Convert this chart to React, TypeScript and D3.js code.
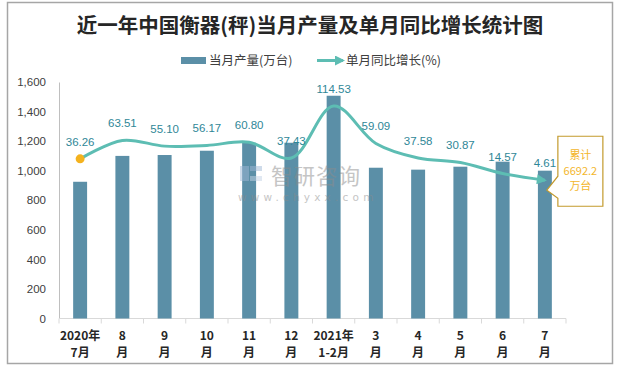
import { useEffect, useRef } from 'react'
import * as d3 from 'd3'

const W = 618, H = 367
const M = { top: 82, right: 52, bottom: 48.5, left: 59 }

const CATEGORIES = ['2020年\n7月', '8\n月', '9\n月', '10\n月', '11\n月', '12\n月', '2021年\n1-2月', '3\n月', '4\n月', '5\n月', '6\n月', '7\n月']
const OUTPUT = [925, 1100, 1106, 1135, 1189, 1189, 1507, 1020, 1007, 1027, 1061, 1000]
const GROWTH = [36.26, 63.51, 55.10, 56.17, 60.80, 37.43, 114.53, 59.09, 37.58, 30.87, 14.57, 4.61]
const Y_TICKS = [0, 200, 400, 600, 800, 1000, 1200, 1400, 1600]
const Y2_DOMAIN = [-200, 150]
const TOTAL = ['累计', '6692.2', '万台']

const TITLE = '近一年中国衡器(秤)当月产量及单月同比增长统计图'
const LEGEND_BAR = '当月产量(万台)'
const LEGEND_LINE = '单月同比增长(%)'

const BAR_C = '#5b8fa7'
const LINE_C = '#5dbdb3'
const LABEL_C = '#2f8797'
const DOT_C = '#f4b21e'
const FONT = '"Noto Sans CJK SC", "Liberation Sans", sans-serif'

export default function App() {
  const svgRef = useRef<SVGSVGElement>(null)

  useEffect(() => {
    const svg = d3.select(svgRef.current!)
    svg.selectAll('*').remove()

    const x0 = M.left, x1 = W - M.right
    const y0 = H - M.bottom, y1 = M.top

    // ── frame ─────────────────────────────────────────────────────────────
    svg.append('rect').attr('x', 7.5).attr('y', 2.5).attr('width', 605).attr('height', 361)
      .attr('fill', '#fff').attr('stroke', '#a6a6a6').attr('stroke-width', 1.5)

    // ── defs ──────────────────────────────────────────────────────────────
    const defs = svg.append('defs')
    defs.append('marker').attr('id', 'arr')
      .attr('viewBox', '0 0 10 10').attr('refX', 8).attr('refY', 5)
      .attr('markerWidth', 11).attr('markerHeight', 10)
      .attr('markerUnits', 'userSpaceOnUse').attr('orient', 'auto')
      .append('path').attr('d', 'M0,0 L10,5 L0,10 Z').attr('fill', LINE_C)

    // ── title + legend ────────────────────────────────────────────────────
    svg.append('text').attr('x', 310).attr('y', 33).attr('text-anchor', 'middle')
      .attr('font-family', FONT).attr('font-weight', 700).attr('font-size', 20.5)
      .attr('fill', '#262626').text(TITLE)

    svg.append('rect').attr('x', 181).attr('y', 57).attr('width', 25).attr('height', 7).attr('fill', BAR_C)
    svg.append('text').attr('x', 209).attr('y', 64.5).attr('font-family', FONT).attr('font-size', 12.5)
      .attr('fill', '#404040').text(LEGEND_BAR)
    svg.append('line').attr('x1', 317).attr('x2', 343).attr('y1', 60.5).attr('y2', 60.5)
      .attr('stroke', LINE_C).attr('stroke-width', 3).attr('marker-end', 'url(#arr)')
    svg.append('text').attr('x', 346).attr('y', 64.5).attr('font-family', FONT).attr('font-size', 12.5)
      .attr('fill', '#404040').text(LEGEND_LINE)

    // ── scales ────────────────────────────────────────────────────────────
    const x = d3.scaleBand<string>().domain(CATEGORIES).range([x0, x1])
      .paddingInner(0.67).paddingOuter(0.335)
    const cx = (i: number) => x(CATEGORIES[i])! + x.bandwidth() / 2
    const y = d3.scaleLinear().domain([0, 1600]).range([y0, y1])
    const y2 = d3.scaleLinear().domain(Y2_DOMAIN).range([y0, y1])

    // ── axes ──────────────────────────────────────────────────────────────
    const yAx = svg.append('g').attr('transform', `translate(${x0},0)`)
      .call(d3.axisLeft(y).tickValues(Y_TICKS).tickFormat(d3.format(',')).tickSize(0).tickPadding(13))
    yAx.select('.domain').attr('stroke', '#bfbfbf')
    yAx.selectAll('.tick text').attr('font-family', '"Liberation Sans", Arial, sans-serif')
      .attr('font-size', 11.5).attr('fill', '#404040')

    svg.append('line').attr('x1', x0).attr('x2', x1).attr('y1', y0).attr('y2', y0)
      .attr('stroke', '#d9d9d9').attr('stroke-width', 1)
    svg.selectAll('line.xt').data(d3.range(CATEGORIES.length + 1)).join('line').attr('class', 'xt')
      .attr('x1', i => x0 + i * x.step()).attr('x2', i => x0 + i * x.step())
      .attr('y1', y0).attr('y2', y0 + 5).attr('stroke', '#d9d9d9')

    const xl = svg.selectAll('text.xl').data(CATEGORIES).join('text').attr('class', 'xl')
      .attr('text-anchor', 'middle').attr('font-family', FONT).attr('font-weight', 700)
      .attr('font-size', 12).attr('fill', '#262626')
    xl.each(function (d, i) {
      const t = d3.select(this)
      d.split('\n').forEach((s, k) => {
        t.append('tspan').attr('x', cx(i)).attr('y', y0 + 21 + k * 17.5).text(s)
      })
    })

    // ── bars ──────────────────────────────────────────────────────────────
    svg.selectAll('rect.bar').data(OUTPUT).join('rect').attr('class', 'bar')
      .attr('x', (_, i) => x(CATEGORIES[i])!).attr('width', x.bandwidth())
      .attr('y', d => y(d)).attr('height', d => y0 - y(d)).attr('fill', BAR_C)

    // ── watermark (semi-transparent, over the bars) ───────────────────────
    const wm = svg.append('g').attr('opacity', 0.5)
    wm.append('rect').attr('x', 240).attr('y', 166).attr('width', 9).attr('height', 15).attr('fill', '#9fb8d6')
    wm.append('rect').attr('x', 250).attr('y', 166).attr('width', 12).attr('height', 5).attr('fill', '#9fb8d6')
    wm.append('rect').attr('x', 250).attr('y', 176).attr('width', 12).attr('height', 5).attr('fill', '#c3d3e6')
    wm.append('text').attr('x', 271).attr('y', 184).attr('font-family', FONT).attr('font-size', 21.5)
      .attr('fill', '#8c8c8c').attr('letter-spacing', 1).text('智研咨询')
    wm.append('text').attr('x', 238).attr('y', 201).attr('font-family', '"DejaVu Sans", sans-serif')
      .attr('font-size', 10.5).attr('fill', '#8c8c8c').attr('letter-spacing', 4.2).text('www.chyxx.com')

    // ── growth line ───────────────────────────────────────────────────────
    const line = d3.line<number>().x((_, i) => cx(i)).y(d => y2(d)).curve(d3.curveCatmullRom.alpha(0.5))
    svg.append('path').attr('d', line(GROWTH)).attr('fill', 'none')
      .attr('stroke', LINE_C).attr('stroke-width', 3).attr('marker-end', 'url(#arr)')
    svg.append('circle').attr('cx', cx(0)).attr('cy', y2(GROWTH[0])).attr('r', 4.5).attr('fill', DOT_C)

    svg.selectAll('text.gl').data(GROWTH).join('text').attr('class', 'gl')
      .attr('x', (_, i) => cx(i)).attr('y', d => y2(d) - 13).attr('text-anchor', 'middle')
      .attr('font-family', '"Liberation Sans", Arial, sans-serif').attr('font-size', 11.5)
      .attr('fill', LABEL_C).text(d => d.toFixed(2))

    // ── cumulative callout ────────────────────────────────────────────────
    const last = GROWTH.length - 1
    const tx = cx(last) + 2, ty = y2(GROWTH[last]) + 10
    const bx = tx + 11, bw = 45, btop = ty - 54, bbot = ty + 16
    svg.append('path')
      .attr('d', `M${bx},${btop} H${bx + bw} V${bbot} H${bx} V${ty + 8} L${tx},${ty} L${bx},${ty - 14} Z`)
      .attr('fill', '#fff').attr('stroke', '#c39a2c').attr('stroke-width', 1.2)
    svg.selectAll('text.tot').data(TOTAL).join('text').attr('class', 'tot')
      .attr('x', bx + bw / 2).attr('y', (_, k) => btop + 23 + k * 15.5).attr('text-anchor', 'middle')
      .attr('font-family', FONT).attr('font-size', 11).attr('fill', '#f3b62c').text(d => d)
  }, [])

  return (
    <div style={{ position: 'absolute', left: 0, top: 0 }}>
      <svg ref={svgRef} width={W} height={H} style={{ display: 'block' }} />
    </div>
  )
}
